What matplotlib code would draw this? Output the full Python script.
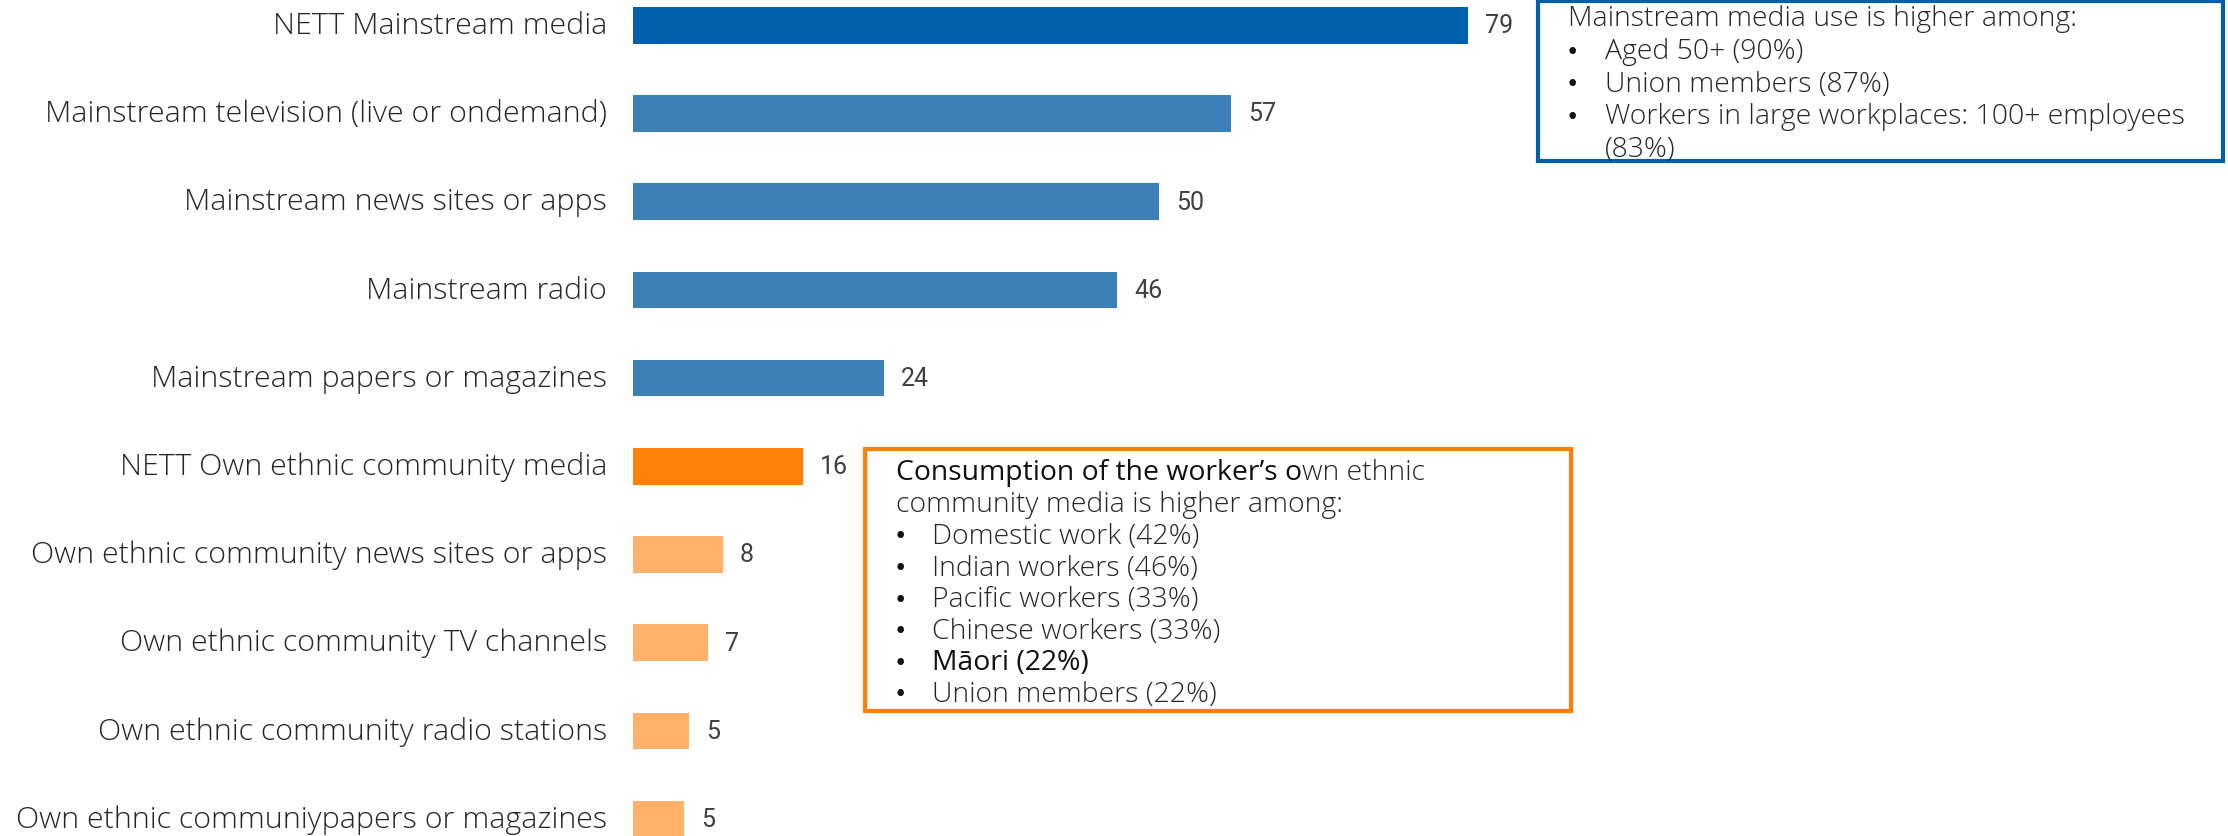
import matplotlib
matplotlib.use("Agg")
import matplotlib.pyplot as plt
from matplotlib.patches import Rectangle

categories = [
    "NETT Mainstream media",
    "Mainstream television (live or ondemand)",
    "Mainstream news sites or apps",
    "Mainstream radio",
    "Mainstream papers or magazines",
    "NETT Own ethnic community media",
    "Own ethnic community news sites or apps",
    "Own ethnic community TV channels",
    "Own ethnic community radio stations",
    "Own ethnic communiypapers or magazines",
]
values = [79, 56.6, 49.8, 45.8, 23.7, 16.1, 8.5, 7.1, 5.3, 4.8]
value_labels = ["79", "57", "50", "46", "24", "16", "8", "7", "5", "5"]
bar_colors = ["#0060AE", "#3B80B7", "#3B80B7", "#3B80B7", "#3B80B7",
              "#FF7F0A", "#FFB169", "#FFB169", "#FFB169", "#FFB169"]

blue_title = "Mainstream media use is higher among:"
blue_bullets = ["Aged 50+ (90%)", "Union members (87%)",
                "Workers in large workplaces: 100+ employees"]
blue_cont = "(83%)"
orange_title_dark = "Consumption of the worker\u2019s o"
orange_title_rest = "wn ethnic"
orange_title_line2 = "community media is higher among:"
orange_bullets = ["Domestic work (42%)", "Indian workers (46%)",
                  "Pacific workers (33%)", "Chinese workers (33%)",
                  "M\u0101ori (22%)", "Union members (22%)"]

W, H = 2228, 837
fig = plt.figure(figsize=(W / 100, H / 100), dpi=100)
fig.patch.set_facecolor("white")

FONT = "Open Sans"
LW = "light"
TXT = "#262626"
DARK = "#111111"

x0 = 633
ppu = 10.57
ax = fig.add_axes([x0 / W, 0, (W - x0) / W, 1])
ax.set_xlim(0, (W - x0) / ppu)
row = 88.2
top = 26.3
ax.set_ylim((H - top) / row, -top / row)
ypos = list(range(len(categories)))
ax.barh(ypos, values, height=0.416, color=bar_colors)
ax.axis("off")

for y, v, lab, cat in zip(ypos, values, value_labels, categories):
    ax.annotate(lab, (v, y), xytext=(17, 0), textcoords="offset pixels",
                ha="left", va="center", fontsize=18, color="#404040",
                family="Roboto")
    ax.annotate(cat, (0, y), xytext=(-26, 0), textcoords="offset pixels",
                ha="right", va="center", fontsize=21.9, color=TXT,
                family=FONT, fontweight=LW)

def fx(px):
    return px / W

def fy(py):
    return 1 - py / H

bfs = 20.4

# Blue box
fig.patches.append(Rectangle((fx(1538), fy(162)), fx(2223) - fx(1538), fy(2) - fy(162),
                             transform=fig.transFigure, fill=False,
                             edgecolor="#0060AE", linewidth=3.0))
fig.text(fx(1568), fy(19), blue_title, ha="left", va="center", fontsize=bfs,
         color=TXT, family=FONT, fontweight=LW)
for i, b in enumerate(blue_bullets):
    yy = 52 + 32.7 * i
    fig.text(fx(1572), fy(yy), "\u2022", ha="center", va="center", fontsize=bfs * 0.8,
             color=DARK, family="DejaVu Sans")
    fig.text(fx(1605), fy(yy), b, ha="left", va="center", fontsize=bfs,
             color=TXT, family=FONT, fontweight=LW)
fig.text(fx(1605), fy(150), blue_cont, ha="left", va="center", fontsize=bfs,
         color=TXT, family=FONT, fontweight=LW)

# Orange box
fig.patches.append(Rectangle((fx(865), fy(712)), fx(1571) - fx(865), fy(450) - fy(712),
                             transform=fig.transFigure, fill=False,
                             edgecolor="#FF7F0A", linewidth=3.0))
t1 = fig.text(fx(896), fy(473), orange_title_dark, ha="left", va="center",
              fontsize=bfs, color=DARK, family=FONT, fontweight="normal")
ax.annotate(orange_title_rest, xy=(1, 0), xycoords=t1, ha="left", va="bottom",
            fontsize=bfs, color=TXT, family=FONT, fontweight=LW,
            annotation_clip=False)
fig.text(fx(896), fy(505), orange_title_line2, ha="left", va="center",
         fontsize=bfs, color=TXT, family=FONT, fontweight=LW)
for i, b in enumerate(orange_bullets):
    yy = 537 + 31.6 * i
    is_m = b.startswith("M\u0101ori")
    fig.text(fx(900), fy(yy), "\u2022", ha="center", va="center", fontsize=bfs * 0.8,
             color=DARK, family="DejaVu Sans")
    fig.text(fx(932), fy(yy), b, ha="left", va="center", fontsize=bfs,
             color=DARK if is_m else TXT, family=FONT,
             fontweight="normal" if is_m else LW)

fig.savefig("out.png", dpi=100, facecolor="white")
